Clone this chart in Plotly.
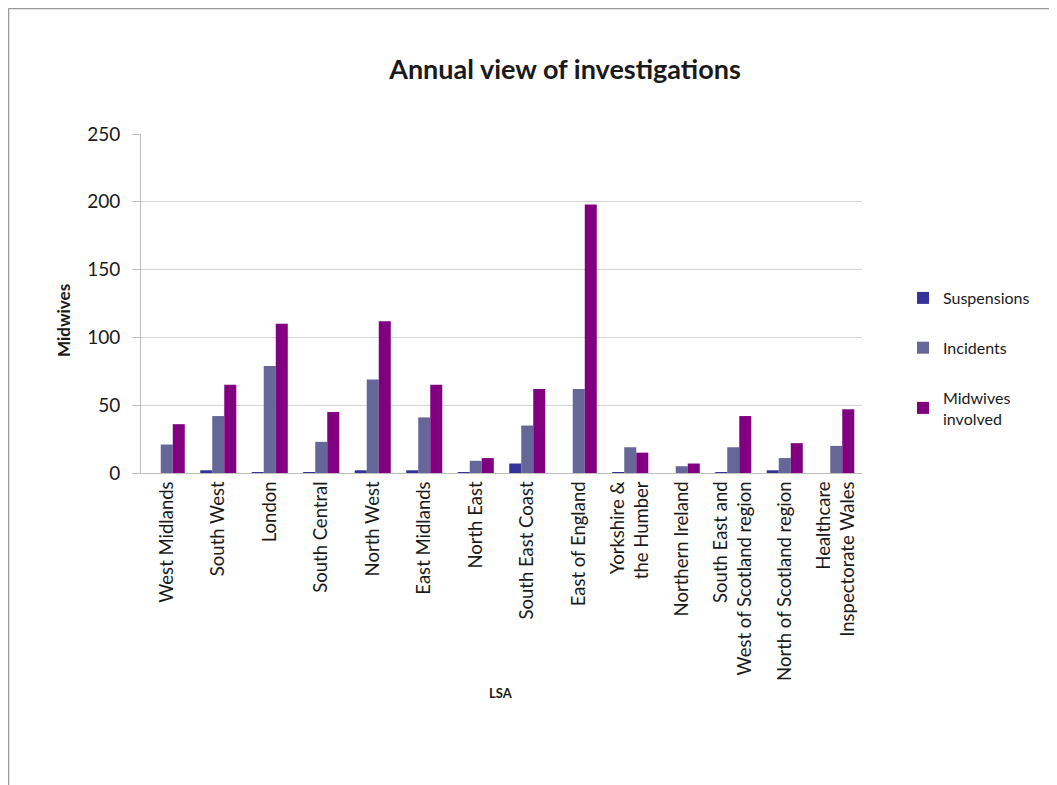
import plotly.graph_objects as go

categories = [
    "West Midlands", "South West", "London", "South Central", "North West",
    "East Midlands", "North East", "South East Coast", "East of England",
    "Yorkshire &<br>the Humber", "Northern Ireland",
    "South East and<br>West of Scotland region", "North of Scotland region",
    "Healthcare<br>Inspectorate Wales",
]
suspensions = [0, 2, 0.5, 0.5, 2, 2, 0.5, 7, 0, 0.5, 0, 0.5, 2, 0]
incidents = [21, 42, 79, 23, 69, 41, 9, 35, 62, 19, 5, 19, 11, 20]
midwives_involved = [36, 65, 110, 45, 112, 65, 11, 62, 198, 15, 7, 42, 22, 47]
y_ticks = [0, 50, 100, 150, 200, 250]

FONT = "Lato"
W, H = 1049, 777          # page has an 8px body margin
L, T = 133, 126           # plot area origin inside the figure
PW, PH = 721, 339         # plot area size

fig = go.Figure()
series = [
    ("Suspensions", suspensions, "#333399"),
    ("Incidents", incidents, "#666699"),
    ("Midwives<br>involved", midwives_involved, "#800080"),
]
for i, (name, vals, col) in enumerate(series):
    fig.add_trace(go.Bar(
        x=categories, y=vals, name=name, legendgroup=str(i),
        marker=dict(color=col, line=dict(width=0)),
    ))

fig.update_layout(
    width=W, height=H,
    margin=dict(l=L, r=W - L - PW, t=T, b=H - T - PH, autoexpand=False),
    paper_bgcolor="white", plot_bgcolor="white",
    barmode="group", bargap=0.3, bargroupgap=0,
    font=dict(family=FONT, color="#1a1a1a"),
    title=dict(text="<b>Annual view of investigations</b>", x=557 / W, xanchor="center",
               y=1 - 62 / H, yanchor="middle", font=dict(size=27, family=FONT)),
    showlegend=True,
    legend=dict(x=(895 - L) / PW, xanchor="left", y=(T + PH - 273) / PH, yanchor="top",
                font=dict(size=16, family=FONT), tracegroupgap=26,
                itemwidth=30, bgcolor="rgba(0,0,0,0)"),
    xaxis=dict(
        tickangle=-90, tickfont=dict(size=18.5, family=FONT),
        showline=True, linecolor="#bfbfbf", linewidth=1,
        ticks="outside", ticklen=0, showgrid=False,
    ),
    yaxis=dict(
        range=[0, 250], tickvals=y_ticks, tickfont=dict(size=19, family=FONT),
        showline=True, linecolor="#bfbfbf", linewidth=1,
        ticks="outside", ticklen=8, tickcolor="#bfbfbf", ticklabelstandoff=8,
        showgrid=True, gridcolor="#d4d4d4", gridwidth=1, zeroline=False,
    ),
    annotations=[
        dict(text="<b>Midwives</b>", xref="paper", yref="paper",
             x=(55 - L) / PW, y=(T + PH - 313) / PH, textangle=-90,
             showarrow=False, font=dict(size=17, family=FONT),
             xanchor="center", yanchor="middle"),
        dict(text="<b>LSA</b>", xref="paper", yref="paper",
             x=(493 - L) / PW, y=(T + PH - 685) / PH,
             showarrow=False, font=dict(size=13, family=FONT),
             xanchor="center", yanchor="middle"),
    ],
)

# outer chart border (top and left edges visible in the reference)
fig.add_shape(type="line", xref="paper", yref="paper",
              x0=(0.5 - L) / PW, x1=(W + 5 - L) / PW,
              y0=(T + PH - 0.5) / PH, y1=(T + PH - 0.5) / PH,
              line=dict(color="#9a9a9a", width=1.5))
fig.add_shape(type="line", xref="paper", yref="paper",
              x0=(0.5 - L) / PW, x1=(0.5 - L) / PW,
              y0=(T + PH - 0.5) / PH, y1=(T + PH - H - 5) / PH,
              line=dict(color="#9a9a9a", width=1.5))

fig.write_html("out.html")
